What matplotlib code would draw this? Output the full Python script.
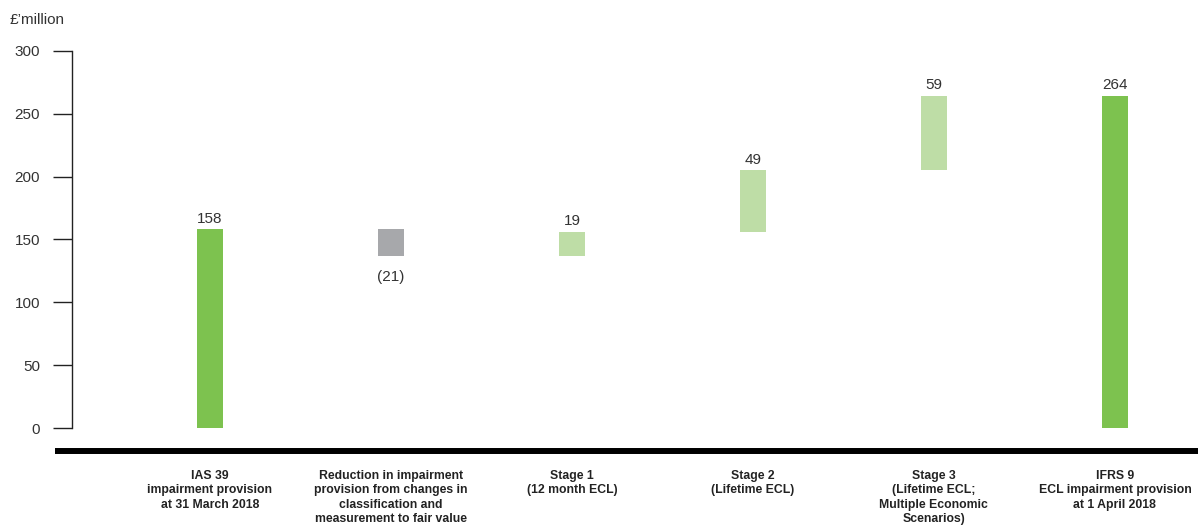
import numpy as np
import matplotlib
matplotlib.use("Agg")
import matplotlib.pyplot as plt
from matplotlib.lines import Line2D

plt.rcParams['font.family'] = ['Liberation Sans', 'DejaVu Sans']

# data
categories = [
    "IAS 39\nimpairment provision\nat 31 March 2018",
    "Reduction in impairment\nprovision from changes in\nclassification and\nmeasurement to fair value",
    "Stage 1\n(12 month ECL)",
    "Stage 2\n(Lifetime ECL)",
    "Stage 3\n(Lifetime ECL;\nMultiple Economic\nScenarios)",
    "IFRS 9\nECL impairment provision\nat 1 April 2018",
]
changes = [158, -21, 19, 49, 59, 264]
value_labels = ["158", "(21)", "19", "49", "59", "264"]
kinds = ["total", "down", "up", "up", "up", "total"]

colours = {"total": "#7DC24F", "down": "#A7A8AB", "up": "#BEDDA6"}

fig = plt.figure(figsize=(11.98, 5.29), dpi=100)
ax = fig.add_axes([72 / 1198, 1 - 428 / 529, 1 - 72 / 1198, 377 / 529])

x = np.arange(len(categories))
bottoms = []
heights = []
running = 0
for val, kind in zip(changes, kinds):
    if kind == "total":
        bottoms.append(0)
        heights.append(val)
        running = val
    else:
        bottoms.append(running + min(val, 0))
        heights.append(abs(val))
        running += val

ax.bar(x, heights, bottom=bottoms, width=0.144,
       color=[colours[k] for k in kinds], linewidth=0)

for xi, b, h, lab, val in zip(x, bottoms, heights, value_labels, changes):
    if val < 0:
        ax.text(xi, b - 11, lab, ha="center", va="top", fontsize=11, color="#333333")
    else:
        ax.text(xi, b + h + 3, lab, ha="center", va="bottom", fontsize=11, color="#333333")

ax.set_xlim(-0.762, 5.459)
ax.set_ylim(0, 300)
ax.set_yticks(np.arange(0, 301, 50))
ax.tick_params(axis="y", direction="out", length=14, width=1, pad=9,
               labelsize=11, labelcolor="#333333", color="#222222")
ax.set_xticks(x)
ax.set_xticklabels(categories, fontsize=8.8, fontweight="bold", color="#222222",
                   linespacing=1.28)
ax.tick_params(axis="x", length=0, pad=30)

for s in ["top", "right", "bottom"]:
    ax.spines[s].set_visible(False)
ax.spines["left"].set_color("#222222")
ax.spines["left"].set_linewidth(1)
ax.patch.set_alpha(0)

# thick baseline under the chart
fig.add_artist(Line2D([55 / 1198, 1.0], [1 - 451 / 529, 1 - 451 / 529],
                      color="black", linewidth=4.3, solid_capstyle="butt"))

fig.text(10 / 1198, 1 - 20 / 529, "£’million", ha="left", va="center",
         fontsize=11, color="#333333")

fig.savefig("out.png", dpi=100)
